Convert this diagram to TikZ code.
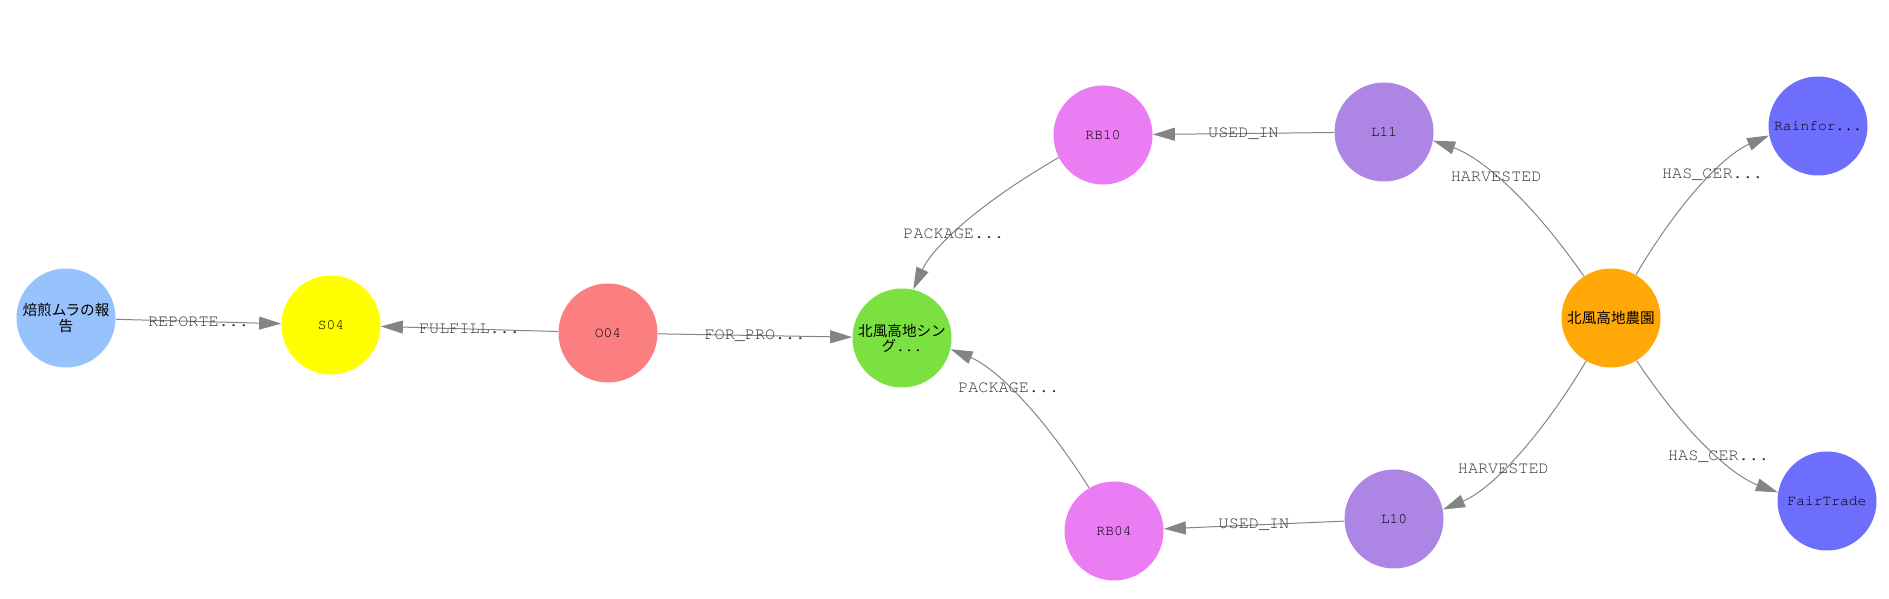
\documentclass[tikz,border=0pt]{standalone}
\usepackage{fontspec}
\setmonofont{TeX Gyre Cursor}
\newfontfamily\jp{Noto Sans CJK JP}
\usepackage{xcolor}
\usepackage{tikz}
\usetikzlibrary{arrows.meta,positioning}

\definecolor{reportblue}{HTML}{97C2FC}
\definecolor{shipyellow}{HTML}{FFFF00}
\definecolor{ordersalmon}{HTML}{FB7E81}
\definecolor{prodgreen}{HTML}{7BE141}
\definecolor{batchpink}{HTML}{EB7DF4}
\definecolor{lotlilac}{HTML}{AD85E4}
\definecolor{farmorange}{HTML}{FFA807}
\definecolor{certblue}{HTML}{6E6EFD}
\definecolor{edgegray}{HTML}{848484}
\definecolor{labelgray}{HTML}{363636}

\begin{document}
\begin{tikzpicture}[x=0.5pt,y=0.5pt,
	ent/.style={circle,minimum size=49.5pt,inner sep=0pt,align=center,
		font=\ttfamily\fontsize{7.3pt}{7.6pt}\selectfont},
	rel/.style={draw=edgegray,line width=0.5pt,-{Triangle[length=11pt,width=6.5pt]},color=edgegray},
	lbl/.style={font=\ttfamily\fontsize{8.4pt}{9pt}\selectfont,text=labelgray,inner sep=1pt}]
	\useasboundingbox (0,0) rectangle (1889,599);
	\node[ent,fill=reportblue] (report) at (66,281) {{\jp 焙煎ムラの報}\\{\jp 告}};
	\node[ent,fill=shipyellow] (s04) at (331,274) {S04};
	\node[ent,fill=ordersalmon] (o04) at (608,266) {O04};
	\node[ent,fill=prodgreen] (prod) at (902,261) {{\jp 北風高地シン}\\{\jp グ}...};
	\node[ent,fill=batchpink] (rb10) at (1103,464) {RB10};
	\node[ent,fill=lotlilac] (l11) at (1384,467) {L11};
	\node[ent,fill=farmorange] (farm) at (1611,281) {\jp 北風高地農園};
	\node[ent,fill=certblue] (rain) at (1818,473) {Rainfor...};
	\node[ent,fill=certblue] (fair) at (1827,98) {FairTrade};
	\node[ent,fill=lotlilac] (l10) at (1394,80) {L10};
	\node[ent,fill=batchpink] (rb04) at (1114,68) {RB04};

	\draw[rel] (report) -- (s04) node[lbl,midway] {REPORTE...};
	\draw[rel] (o04) -- (s04) node[lbl,midway] {FULFILL...};
	\draw[rel] (o04) -- (prod) node[lbl,midway] {FOR\_PRO...};
	\draw[rel] (l11) -- (rb10) node[lbl,midway] {USED\_IN};
	\draw[rel] (l10) -- (rb04) node[lbl,midway] {USED\_IN};
	\draw[rel] (rb10.207.9) .. controls (982.3,397.4) and (933.6,353.6) .. (prod.77.2) node[lbl,pos=0.58] {PACKAGE...};
	\draw[rel] (rb04.120.4) .. controls (1042.8,184.2) and (996.7,230.7) .. (prod.347.5) node[lbl,pos=0.58] {PACKAGE...};
	\draw[rel] (farm.123) .. controls (1533.3,395.7) and (1482.9,441.1) .. (l11.350.3) node[lbl,pos=0.58] {HARVESTED};
	\draw[rel] (farm.240.5) .. controls (1538.9,158.9) and (1490.8,109.4) .. (l10.11.3) node[lbl,pos=0.58] {HARVESTED};
	\draw[rel] (farm.60.7) .. controls (1679.2,397.7) and (1724.0,443.9) .. (rain.191.7) node[lbl,pos=0.58] {HAS\_CER...};
	\draw[rel] (farm.301.4) .. controls (1683.5,167.8) and (1730.8,123.8) .. (fair.170.1) node[lbl,pos=0.58] {HAS\_CER...};
\end{tikzpicture}
\end{document}
